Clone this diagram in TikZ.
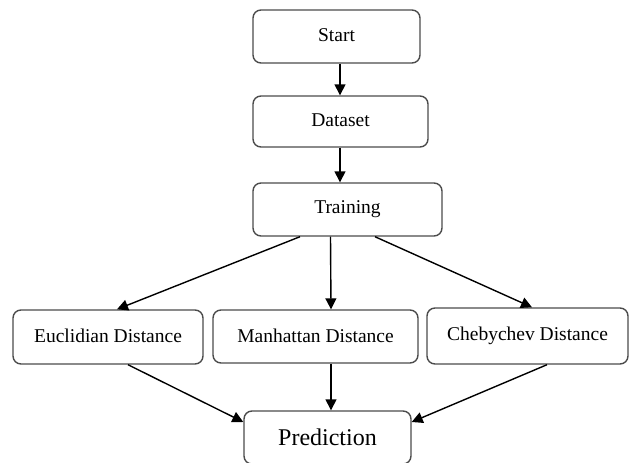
\documentclass[tikz,border=0pt]{standalone}
\usepackage{fontspec}
\setmainfont{Liberation Serif}
\usetikzlibrary{arrows.meta}
\begin{document}
\begin{tikzpicture}[x=1pt,y=-1pt,
  box/.style={draw=black!70, line width=1.4pt, rounded corners=8pt, fill=white, inner sep=0pt, font=\fontsize{19.5}{23}\selectfont},
  arr/.style={line width=1.4pt, -{Triangle[length=11pt,width=11pt]}}]
\useasboundingbox (0,0) rectangle (632,463);
\clip (0,0) rectangle (632,463);
\node[box, minimum width=167pt, minimum height=53pt] (start) at (336.5,36.5) {\raisebox{2pt}{Start}};
\node[box, minimum width=175pt, minimum height=51pt] (data) at (340.5,121.5) {\raisebox{2pt}{Dataset}};
\node[box, minimum width=189pt, minimum height=53pt] (train) at (347.5,209.5) {\raisebox{2pt}{Training}};
\node[box, minimum width=190pt, minimum height=54pt] (eucl) at (108,337) {\raisebox{2pt}{Euclidian Distance}};
\node[box, minimum width=205pt, minimum height=53pt] (manh) at (315.5,336.5) {\raisebox{2pt}{Manhattan Distance}};
\node[box, minimum width=201pt, minimum height=56pt] (cheb) at (527.5,336) {\raisebox{2pt}{Chebychev Distance}};
\node[box, minimum width=167pt, minimum height=53pt, font=\fontsize{24}{28}\selectfont] (pred) at (327.5,437.5) {Prediction};
\draw[arr] ([xshift=3.5pt]start.south) -- ([xshift=-0.5pt]data.north);
\draw[arr] ([xshift=-0.5pt]data.south) -- ([xshift=-7.5pt]train.north);
\draw[arr] ([xshift=-47.5pt]train.south) -- ([xshift=9pt]eucl.north);
\draw[arr] ([xshift=-17pt]train.south) -- ([xshift=15.5pt]manh.north);
\draw[arr] ([xshift=27.5pt]train.south) -- ([xshift=4.5pt]cheb.north);
\draw[arr] ([xshift=20pt]eucl.south) -- ([yshift=15.5pt]pred.west);
\draw[arr] ([xshift=15.5pt]manh.south) -- ([xshift=3.5pt]pred.north);
\draw[arr] ([xshift=19.5pt]cheb.south) -- ([yshift=15.5pt]pred.east);
\end{tikzpicture}
\end{document}
